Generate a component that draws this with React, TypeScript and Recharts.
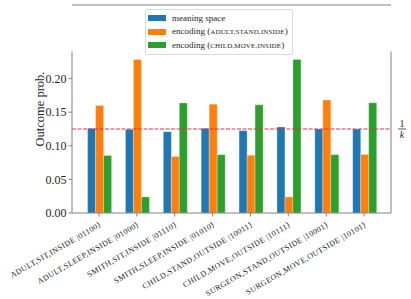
import React from 'react';
import {
  BarChart,
  Bar,
  XAxis,
  YAxis,
  ReferenceLine,
  Legend,
  CartesianGrid,
} from 'recharts';

const categories = [
  'ADULT,SIT,INSIDE |01100⟩',
  'ADULT,SLEEP,INSIDE |01000⟩',
  'SMITH,SIT,INSIDE |01110⟩',
  'SMITH,SLEEP,INSIDE |01010⟩',
  'CHILD,STAND,OUTSIDE |10011⟩',
  'CHILD,MOVE,OUTSIDE |10111⟩',
  'SURGEON,STAND,OUTSIDE |10001⟩',
  'SURGEON,MOVE,OUTSIDE |10101⟩',
];
const meaningSpace = [0.126, 0.1245, 0.121, 0.126, 0.1225, 0.128, 0.125, 0.125];
const encodingAdult = [0.16, 0.2286, 0.0841, 0.162, 0.086, 0.024, 0.168, 0.0872];
const encodingChild = [0.0856, 0.024, 0.1638, 0.0868, 0.161, 0.2286, 0.0868, 0.164];
const yTicks = [0, 0.05, 0.1, 0.15, 0.2];
const yMax = 0.2405;
const uniform = 0.125;

const data = categories.map((name, i) => ({
  name,
  meaning: meaningSpace[i],
  adult: encodingAdult[i],
  child: encodingChild[i],
}));

const FONT = '"Liberation Serif", "DejaVu Serif", serif';
const AXIS = '#808080';
const TEXT = '#262626';
const W = 411;
const H = 299;
const M = { top: 5, right: 20, left: 0, bottom: 0 };

const legendItems = [
  { color: '#1f77b4', label: 'meaning space', caps: '' },
  { color: '#ff7f0e', label: 'encoding (', caps: 'ADULT,STAND,INSIDE' },
  { color: '#2ca02c', label: 'encoding (', caps: 'CHILD,MOVE,INSIDE' },
];

function LegendBox() {
  return (
    <div
      style={{
        background: 'rgba(255,255,255,0.85)',
        border: '1px solid #d9d9d9',
        borderRadius: 2,
        padding: '2px 4px 2px 2px',
        fontFamily: FONT,
        fontSize: 9,
        color: TEXT,
        lineHeight: '12.8px',
      }}
    >
      {legendItems.map((it) => (
        <div key={it.color} style={{ display: 'flex', alignItems: 'center' }}>
          <span
            style={{
              display: 'inline-block',
              width: 18,
              height: 6,
              background: it.color,
              marginRight: 6,
            }}
          />
          <span>
            {it.label}
            {it.caps && (
              <>
                <span style={{ fontSize: 7, letterSpacing: 0.15 }}>{it.caps}</span>)
              </>
            )}
          </span>
        </div>
      ))}
    </div>
  );
}

function SlantTick({ x, y, payload }: any) {
  return (
    <text
      transform={`translate(${x},${y + 3}) rotate(-30)`}
      textAnchor="end"
      dominantBaseline="hanging"
      fontFamily={FONT}
      fontSize={8}
      letterSpacing={0.4}
      fill={TEXT}
    >
      {payload.value}
    </text>
  );
}

function FracLabel({ viewBox }: any) {
  const x = viewBox.x + viewBox.width + 11;
  const y = viewBox.y;
  return (
    <g fontFamily={FONT} fill={TEXT}>
      <text x={x} y={y - 2} textAnchor="middle" fontSize={10}>
        1
      </text>
      <line x1={x - 4} x2={x + 4} y1={y} y2={y} stroke={TEXT} strokeWidth={0.8} />
      <text x={x} y={y + 9} textAnchor="middle" fontSize={10} fontStyle="italic">
        k
      </text>
    </g>
  );
}

function YLabel() {
  return (
    <text
      x={40}
      y={109}
      transform="rotate(-90, 40, 109)"
      textAnchor="middle"
      dominantBaseline="central"
      fontFamily={FONT}
      fontSize={12.5}
      fill={TEXT}
    >
      Outcome prob.
    </text>
  );
}

const barEdge = { stroke: '#ffffff', strokeOpacity: 0.35, strokeWidth: 0.8 };

export default function App() {
  return (
    <div style={{ position: 'absolute', left: 0, top: 0 }}>
      <BarChart
        width={W}
        height={H}
        data={data}
        margin={M}
        barCategoryGap="20%"
        barGap={0}
      >
        {/* top and right spines */}
        <CartesianGrid
          stroke={AXIS}
          strokeOpacity={1}
          horizontalPoints={[M.top]}
          verticalPoints={[W - M.right]}
        />
        <XAxis
          dataKey="name"
          interval={0}
          height={86}
          padding={{ left: 8, right: 8 }}
          stroke={AXIS}
          tickLine={{ stroke: AXIS }}
          tickSize={3.5}
          tick={<SlantTick />}
        />
        <YAxis
          width={72}
          domain={[0, yMax]}
          ticks={yTicks}
          tickFormatter={(v: number) => v.toFixed(2)}
          stroke={AXIS}
          tickSize={3.5}
          tick={{ fontFamily: FONT, fontSize: 12, fill: TEXT }}
          label={<YLabel />}
        />
        <Legend
          verticalAlign="top"
          content={<LegendBox />}
          wrapperStyle={{ position: 'absolute', top: 9, left: 145, width: 'auto' }}
        />
        <Bar dataKey="meaning" fill="#1f77b4" {...barEdge} isAnimationActive={false} />
        <Bar dataKey="adult" fill="#ff7f0e" {...barEdge} isAnimationActive={false} />
        <Bar dataKey="child" fill="#2ca02c" {...barEdge} isAnimationActive={false} />
        <ReferenceLine
          y={uniform}
          stroke="#e0304a"
          strokeDasharray="4 1.5"
          strokeWidth={1}
          label={<FracLabel />}
        />
      </BarChart>
    </div>
  );
}
